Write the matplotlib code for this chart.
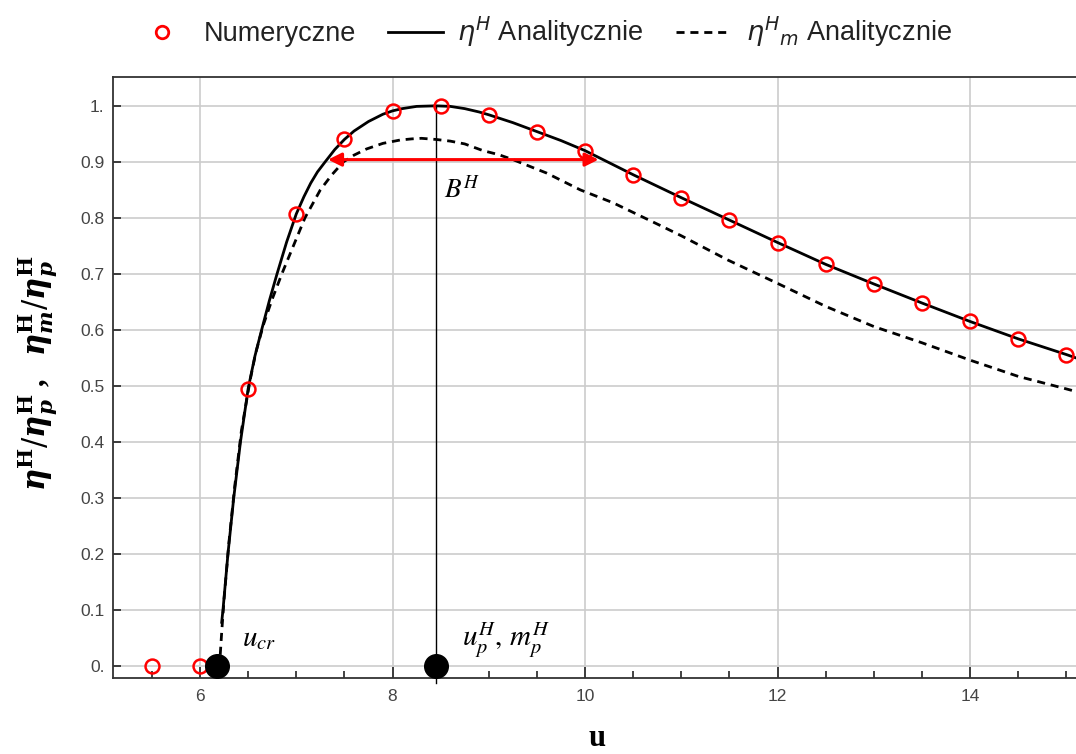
import matplotlib
matplotlib.use("Agg")
import matplotlib.pyplot as plt
from matplotlib.lines import Line2D
from matplotlib.ticker import MultipleLocator, FuncFormatter

plt.rcParams["font.family"] = ["Liberation Sans", "DejaVu Sans"]

# numerical results (red circles)
u_num = [5.5, 6.0, 6.5, 7.0, 7.5, 8.0, 8.5, 9.0, 9.5, 10.0, 10.5,
         11.0, 11.5, 12.0, 12.5, 13.0, 13.5, 14.0, 14.5, 15.0]
eta_num = [0.0, 0.0, 0.494, 0.807, 0.940, 0.991, 1.000, 0.984, 0.954, 0.920, 0.877,
           0.836, 0.796, 0.756, 0.717, 0.682, 0.648, 0.615, 0.584, 0.556]

# analytical eta^H / eta_p^H (solid)
u_eta = [6.225, 6.24, 6.29, 6.35, 6.42, 6.50, 6.57, 6.64, 6.72, 6.80, 6.90, 7.0,
         7.08, 7.15, 7.22, 7.30, 7.40, 7.5, 7.6, 7.75, 7.9, 8.0, 8.1, 8.25, 8.45,
         8.6, 8.75, 8.9, 9.0, 9.25, 9.5, 9.75, 10.0, 10.5, 11.0, 11.5,
         12.0, 12.5, 13.0, 13.5, 14.0, 14.5, 15.0, 15.1]
eta_h = [0.078, 0.103, 0.200, 0.300, 0.400, 0.495, 0.553, 0.600, 0.652, 0.700, 0.757, 0.807,
         0.838, 0.862, 0.882, 0.900, 0.922, 0.940, 0.955, 0.972, 0.985, 0.991, 0.995, 0.999, 1.000,
         0.999, 0.995, 0.989, 0.984, 0.970, 0.954, 0.938, 0.920, 0.877, 0.836, 0.796,
         0.756, 0.717, 0.682, 0.648, 0.615, 0.584, 0.556, 0.550]

# analytical eta_m^H / eta_p^H (dashed)
u_etam = [6.21, 6.225, 6.25, 6.30, 6.36, 6.43, 6.52, 6.58, 6.66, 6.75, 6.85, 6.97,
          7.09, 7.25, 7.37, 7.49, 7.6, 7.73, 7.9, 8.08, 8.2, 8.30, 8.45, 8.6, 8.75,
          8.94, 9.1, 9.25, 9.6, 9.95, 10.29, 10.81, 11.0, 11.48, 12.0,
          12.5, 13.0, 13.5, 14.0, 14.5, 14.97, 15.1]
eta_m = [0.020, 0.060, 0.120, 0.220, 0.320, 0.420, 0.510, 0.560, 0.610, 0.655, 0.700, 0.750,
         0.800, 0.850, 0.877, 0.900, 0.912, 0.923, 0.933, 0.939, 0.941, 0.942, 0.940, 0.937, 0.932,
         0.920, 0.913, 0.904, 0.880, 0.850, 0.827, 0.784, 0.768, 0.725, 0.683,
         0.642, 0.606, 0.577, 0.546, 0.517, 0.496, 0.490]

# characteristic points
u_cr = 6.18
u_peak = 8.45
width_y = 0.904
width_u = [7.33, 10.14]


def tick_fmt(v, pos):
    return f"{v:.1f}".rstrip("0")


fig = plt.figure(figsize=(10.76, 7.54), dpi=100)
ax = fig.add_axes([113 / 1076, 1 - 678 / 754, (1076 - 113) / 1076, (678 - 76.7) / 754])

ax.plot(u_etam, eta_m, color="black", lw=2, ls=(0, (2.9, 2.1)))
ax.plot(u_eta, eta_h, color="black", lw=2)
ax.plot(u_num, eta_num, "o", mfc="none", mec="red", ms=10, mew=1.8, clip_on=False, zorder=4)

# peak marker line and the two black points
ax.plot([u_peak, u_peak], [-0.03, 1.0], color="black", lw=1, clip_on=False)
ax.plot([u_cr, u_peak], [0, 0], "o", color="black", ms=17, clip_on=False, zorder=5)

# bandwidth arrow
ax.annotate("", xy=(width_u[0], width_y), xytext=(width_u[1], width_y),
            arrowprops=dict(arrowstyle="<|-|>", color="red", lw=2.2,
                            mutation_scale=20, shrinkA=0, shrinkB=0))

ax.text(6.44, 0.036, r"$u_{cr}$", fontsize=21, math_fontfamily="stix")
ax.text(8.72, 0.036, r"$u_p^H,\,m_p^H$", fontsize=21, math_fontfamily="stix")
ax.text(8.53, 0.837, r"$B^H$", fontsize=19.5, math_fontfamily="stix")

ax.set_xlim(5.096, 15.1)
ax.set_ylim(-0.0214, 1.052)
ax.xaxis.set_major_locator(MultipleLocator(2))
ax.xaxis.set_minor_locator(MultipleLocator(0.5))
ax.yaxis.set_major_locator(MultipleLocator(0.1))
ax.yaxis.set_major_formatter(FuncFormatter(tick_fmt))
ax.grid(True, which="major", color="#cccccc", lw=1.2)
ax.set_axisbelow(True)
ax.tick_params(which="both", direction="in", width=1.2, color="#222222",
               labelcolor="#444444", labelsize=12.5)
ax.tick_params(axis="x", which="major", length=8, pad=8)
ax.tick_params(axis="x", which="minor", length=5)
ax.tick_params(axis="y", which="major", length=6, pad=6)
ax.spines["right"].set_visible(False)
for s in ["left", "bottom", "top"]:
    ax.spines[s].set_color("#333333")
    ax.spines[s].set_linewidth(1.3)

fig.text(37 / 1076, 1 - 373 / 754,
         r"$\mathbfit{\eta}^{\mathbf{H}}/\mathbfit{\eta}_{\mathbfit{p}}^{\mathbf{H}}$ ,   "
         r"$\mathbfit{\eta}_{\mathbfit{m}}^{\mathbf{H}}/\mathbfit{\eta}_{\mathbfit{p}}^{\mathbf{H}}$",
         rotation=90, ha="center", va="center", fontsize=22, fontweight="bold",
         family="Liberation Serif", math_fontfamily="dejavuserif")
fig.text(597 / 1076, 1 - 739 / 754, "u", fontsize=22, fontweight="bold",
         family="Liberation Serif", ha="center", va="center")

handles = [
    Line2D([], [], ls="none", marker="o", mfc="none", mec="red", ms=9, mew=2),
    Line2D([], [], color="black", lw=2),
    Line2D([], [], color="black", lw=2, ls=(0, (2.9, 2.1))),
]
labels = ["Numeryczne", r"$\eta^H$ Analitycznie", r"$\eta^H{}_m$ Analitycznie"]
leg = fig.legend(handles, labels, loc="center", bbox_to_anchor=(543 / 1076, 1 - 32 / 754),
                 ncol=3, frameon=False, fontsize=19.5, handlelength=2.0,
                 columnspacing=1.2, handletextpad=0.55)
for t in leg.get_texts():
    t.set_color("#222222")

fig.savefig("out.png", dpi=100)
